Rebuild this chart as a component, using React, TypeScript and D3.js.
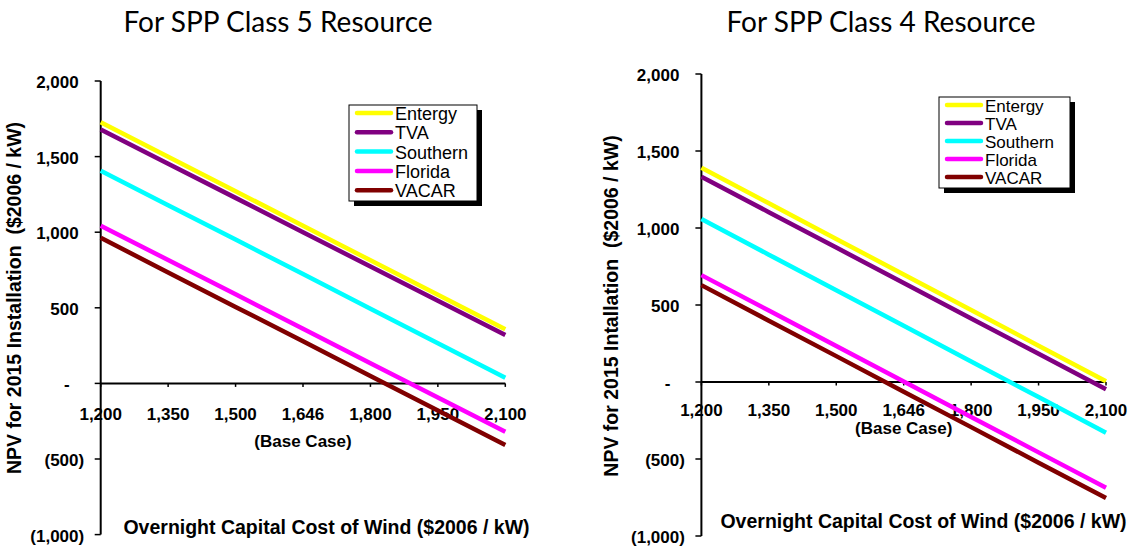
import React, { useEffect, useRef } from "react";
import * as d3 from "d3";

// x categories (overnight capital cost, $2006/kW)
const categories = ["1,200", "1,350", "1,500", "1,646", "1,800", "1,950", "2,100"];
const yTicks = [2000, 1500, 1000, 500, 0, -500, -1000];
const regions = ["Entergy", "TVA", "Southern", "Florida", "VACAR"];
const colors = ["#ffff00", "#800080", "#00ffff", "#ff00ff", "#800000"];

// NPV for 2015 installation, class 5 resource
const class5Entergy = [1727, 1499, 1271, 1043, 814, 586, 358];
const class5TVA = [1680, 1453, 1227, 1000, 773, 547, 320];
const class5Southern = [1407, 1179, 951, 723, 494, 266, 38];
const class5Florida = [1043, 816, 589, 362, 134, -93, -320];
const class5VACAR = [963, 734, 506, 278, 49, -180, -408];

// NPV for 2015 installation, class 4 resource
const class4Entergy = [1391, 1160, 929, 698, 467, 236, 5];
const class4TVA = [1333, 1103, 873, 643, 413, 183, -47];
const class4Southern = [1058, 827, 596, 365, 133, -98, -329];
const class4Florida = [694, 464, 234, 4, -227, -457, -687];
const class4VACAR = [629, 398, 168, -63, -293, -524, -754];

const fmtY = (v: number) => {
  if (v === 0) return "-";
  const s = d3.format(",")(Math.abs(v));
  return v < 0 ? `(${s})` : s;
};

const ARIAL = "'Liberation Sans', Arial, sans-serif";

interface ChartProps {
  title: string;
  titleX: number;
  yTitle: string;
  yTitleX: number;
  yTitleY: number;
  x0: number;
  x1: number;
  yTop: number;
  yBottom: number;
  tickLabelDy: number;
  baseCaseDy: number;
  xTitleX: number;
  xTitleY: number;
  legendX: number;
  legendY: number;
  legendW: number;
  legendH: number;
  legendRow: number;
  legendFont: number;
  series: number[][];
}

const Chart = (props: ChartProps) => {
  const ref = useRef<SVGGElement>(null);

  useEffect(() => {
    const g = d3.select(ref.current);
    g.selectAll("*").remove();

    const x = d3.scalePoint<string>().domain(categories).range([props.x0, props.x1]);
    const y = d3.scaleLinear().domain([-1000, 2000]).range([props.yBottom, props.yTop]);
    const zero = y(0);

    g.append("text")
      .attr("x", props.titleX)
      .attr("y", 31.5)
      .attr("text-anchor", "middle")
      .style("font-family", "Lato, 'Open Sans', sans-serif")
      .style("font-size", "28px")
      .text(props.title);

    // y axis
    g.append("line")
      .attr("x1", props.x0).attr("x2", props.x0)
      .attr("y1", y(2000)).attr("y2", y(-1000))
      .attr("stroke", "#000").attr("stroke-width", 2);
    yTicks.forEach((v) => {
      g.append("line")
        .attr("x1", props.x0 - 6).attr("x2", props.x0)
        .attr("y1", y(v)).attr("y2", y(v))
        .attr("stroke", "#000").attr("stroke-width", 1.5);
      const dx = v === 0 ? -31 : v < 0 ? -16.5 : -22;
      g.append("text")
        .attr("x", props.x0 + dx)
        .attr("y", y(v) + 1.5)
        .attr("text-anchor", "end")
        .attr("dominant-baseline", "central")
        .style("font-family", ARIAL)
        .style("font-weight", "bold")
        .style("font-size", "17px")
        .text(fmtY(v));
    });

    // x axis
    g.append("line")
      .attr("x1", props.x0).attr("x2", props.x1)
      .attr("y1", zero).attr("y2", zero)
      .attr("stroke", "#000").attr("stroke-width", 2);
    categories.forEach((c) => {
      const cx = x(c) as number;
      g.append("line")
        .attr("x1", cx).attr("x2", cx)
        .attr("y1", zero).attr("y2", zero + 3.5)
        .attr("stroke", "#000").attr("stroke-width", 1.5);
      g.append("text")
        .attr("x", cx)
        .attr("y", zero + props.tickLabelDy)
        .attr("text-anchor", "middle")
        .attr("dominant-baseline", "central")
        .style("font-family", ARIAL)
        .style("font-weight", "bold")
        .style("font-size", "17px")
        .text(c);
    });
    g.append("text")
      .attr("x", x("1,646") as number)
      .attr("y", zero + props.baseCaseDy)
      .attr("text-anchor", "middle")
      .attr("dominant-baseline", "central")
      .style("font-family", ARIAL)
      .style("font-weight", "bold")
      .style("font-size", "17px")
      .text("(Base Case)");

    g.append("text")
      .attr("x", props.xTitleX)
      .attr("y", props.xTitleY)
      .attr("text-anchor", "middle")
      .attr("dominant-baseline", "central")
      .style("font-family", ARIAL)
      .style("font-weight", "bold")
      .style("font-size", "19.5px")
      .text("Overnight Capital Cost of Wind ($2006 / kW)");

    g.append("text")
      .attr("transform", `translate(${props.yTitleX}, ${props.yTitleY}) rotate(-90)`)
      .attr("text-anchor", "middle")
      .attr("dominant-baseline", "central")
      .style("font-family", ARIAL)
      .style("font-weight", "bold")
      .style("font-size", "19.5px")
      .style("white-space", "pre")
      .text(props.yTitle);

    // lines
    const line = d3
      .line<number>()
      .x((_, i) => x(categories[i]) as number)
      .y((d) => y(d));
    props.series.forEach((s, i) => {
      g.append("path")
        .datum(s)
        .attr("fill", "none")
        .attr("stroke", colors[i])
        .attr("stroke-width", 4.5)
        .attr("d", line);
    });

    // legend
    g.append("rect")
      .attr("x", props.legendX + 5).attr("y", props.legendY + 5)
      .attr("width", props.legendW).attr("height", props.legendH)
      .attr("fill", "#000");
    g.append("rect")
      .attr("x", props.legendX).attr("y", props.legendY)
      .attr("width", props.legendW).attr("height", props.legendH)
      .attr("fill", "#fff").attr("stroke", "#000").attr("stroke-width", 1);
    regions.forEach((r, i) => {
      const ry = props.legendY + 8 + i * props.legendRow;
      g.append("line")
        .attr("x1", props.legendX + 8).attr("x2", props.legendX + 42)
        .attr("y1", ry).attr("y2", ry)
        .attr("stroke", colors[i]).attr("stroke-width", 4.5)
        .attr("stroke-linecap", "round");
      g.append("text")
        .attr("x", props.legendX + 46)
        .attr("y", ry + 1)
        .attr("dominant-baseline", "central")
        .style("font-family", ARIAL)
        .style("font-size", `${props.legendFont}px`)
        .text(r);
    });
  });

  return <g ref={ref} />;
};

const App = () => {
  return (
    <div style={{ position: "absolute", left: 0, top: 0 }}>
      <svg width={1129} height={550} style={{ display: "block", background: "#fff" }}>
        <Chart
          title="For SPP Class 5 Resource"
          titleX={278}
          yTitle="NPV for 2015 Installation  ($2006 / kW)"
          yTitleX={14}
          yTitleY={298}
          x0={100.7}
          x1={505.3}
          yTop={81}
          yBottom={534.6}
          tickLabelDy={31.4}
          baseCaseDy={58}
          xTitleX={326.5}
          xTitleY={526.7}
          legendX={349}
          legendY={105}
          legendW={128}
          legendH={96}
          legendRow={19.3}
          legendFont={18}
          series={[class5Entergy, class5TVA, class5Southern, class5Florida, class5VACAR]}
        />
        <Chart
          title="For SPP Class 4 Resource"
          titleX={881}
          yTitle="NPV for 2015 Intallation  ($2006 / kW)"
          yTitleX={611}
          yTitleY={306}
          x0={701.4}
          x1={1106}
          yTop={74}
          yBottom={536}
          tickLabelDy={28.3}
          baseCaseDy={46.6}
          xTitleX={923.5}
          xTitleY={521}
          legendX={939}
          legendY={97}
          legendW={131}
          legendH={91}
          legendRow={18}
          legendFont={17}
          series={[class4Entergy, class4TVA, class4Southern, class4Florida, class4VACAR]}
        />
      </svg>
    </div>
  );
};

export default App;
